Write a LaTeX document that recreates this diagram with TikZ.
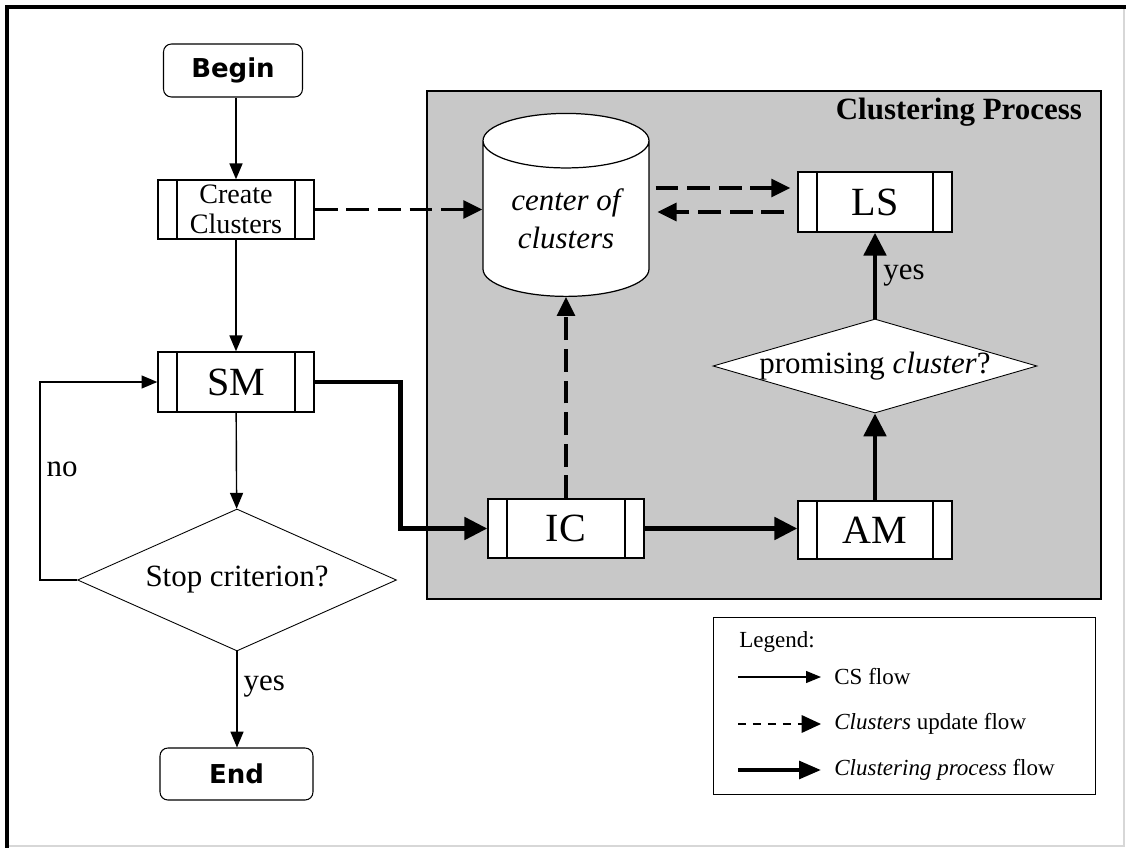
\documentclass[tikz,border=0pt]{standalone}
\usepackage{fontspec}
\setmainfont{Liberation Serif}
\newfontfamily\termfont{DejaVu Sans}
\usepackage{tikz}
\usetikzlibrary{positioning, arrows.meta, calc, shapes.geometric}
\definecolor{panelgray}{RGB}{200, 200, 200}
\definecolor{framegray}{RGB}{215, 215, 215}
\tikzset{
  term/.style={draw, rounded corners=4.5pt, fill=white, line width=0.6pt,
               font=\termfont\bfseries\fontsize{14.8}{17}\selectfont, inner sep=0pt},
  proc/.style={draw, fill=white, line width=0.8pt, inner sep=0pt,
               minimum width=3.08cm, minimum height=1.2cm,
               font=\fontsize{22.8}{27}\selectfont,
               path picture={
                 \draw[line width=0.6pt] ([xshift=0.38cm]path picture bounding box.north west)
                   -- ([xshift=0.38cm]path picture bounding box.south west);
                 \draw[line width=0.6pt] ([xshift=-0.38cm]path picture bounding box.north east)
                   -- ([xshift=-0.38cm]path picture bounding box.south east);}},
  decide/.style={diamond, draw, fill=white, line width=0.5pt, inner sep=0pt,
                 font=\fontsize{17.6}{21}\selectfont},
  store/.style={cylinder, shape border rotate=90, aspect=0.5, draw, fill=white,
                line width=0.7pt, align=center, inner sep=0pt,
                font=\itshape\fontsize{17.6}{21.6}\selectfont},
  arr/.style={-{Triangle[length=9pt, width=7.4pt]}, line width=0.8pt},
  upd/.style={-{Triangle[length=10.8pt, width=10.2pt]}, line width=1.8pt,
              dash pattern=on 13pt off 5pt},
  cpf/.style={-{Triangle[length=13pt, width=12.5pt]}, line width=2.8pt},
  lbl/.style={font=\fontsize{17.6}{21}\selectfont},
  leg/.style={font=\fontsize{13.1}{16}\selectfont, anchor=west,
              inner xsep=0.26cm, inner ysep=0pt},
}
\begin{document}
\begin{tikzpicture}[x=0.02cm, y=-0.02cm]
  \useasboundingbox (0,0) rectangle (1130,848);
  % Frame
  \draw[framegray, line width=0.8pt] (1124,7) -- (1124,846) -- (7,846);
  \draw[line width=2.8pt] (7,848) -- (7,7) -- (1126,7);
  % Clustering process panel
  \node[draw, fill=panelgray, line width=1.1pt, inner sep=0pt, anchor=north west,
        minimum width=13.48cm, minimum height=10.16cm] (panel) at (426,90) {};
  \node[font=\bfseries\fontsize{17.6}{20}\selectfont, anchor=base east] (ttl)
    at (1088,120) {Clustering Process};
  % Main loop
  \node[term, minimum width=2.78cm, minimum height=1.06cm] (begin) at (233,70.5) {Begin};
  \node[proc, minimum width=3.12cm, minimum height=1.18cm, align=center,
        font=\fontsize{16}{17}\selectfont] (create) at (236,209.5) {Create\\Clusters};
  \node[proc, minimum width=3.12cm] (sm) at (236,382) {SM};
  \node[decide, aspect=2.25, minimum width=6.38cm, minimum height=2.84cm] (stop)
    at (237,580) {Stop criterion?};
  \node[term, minimum width=3.06cm, minimum height=1.04cm] (end) at (236.5,774) {End};
  % Inside the panel
  \node[store, minimum width=3.32cm, minimum height=3.66cm, anchor=south] (cyl)
    at (566,297) {center of\\clusters};
  \node[proc] (ls) at (875,202) {LS};
  \node[decide, minimum width=6.48cm, minimum height=1.88cm] (prom) at (875,366)
    {\makebox[0pt]{promising \textit{cluster}?}};
  \node[proc, minimum width=3.12cm, minimum height=1.18cm] (ic) at (566,528.5) {IC};
  \node[proc, minimum height=1.16cm] (am) at (875,530) {AM};
  % CS flow
  \draw[arr] (create.north |- begin.south) -- (create.north);
  \draw[arr] (create) -- (sm);
  \draw[arr] (sm) -- (stop);
  \draw[arr] (stop.south) -- node[lbl, right, pos=0.37]{yes} (stop.south |- end.north);
  \draw[arr] (stop.west) -- ++(-37,0) |- node[lbl, right, pos=0.28]{no} (sm.west);
  % Clusters update flow
  \draw[upd] (create.east) -- (create.east -| cyl.west);
  \draw[upd, shorten <=3.4pt, shorten >=4pt]
    ([yshift=0.28cm]ls.west -| cyl.east) -- ([yshift=0.28cm]ls.west);
  \draw[upd, shorten <=7.4pt, shorten >=4.5pt]
    ([yshift=-0.2cm]ls.west) -- ([yshift=-0.2cm]ls.west -| cyl.east);
  \draw[upd] (ic.north) -- (cyl);
  % Clustering process flow
  \draw[cpf] (sm.east) -- ++(86,0) |- (ic.west);
  \draw[cpf] (ic.east) -- (ic.east -| am.west);
  \draw[cpf] (am) -- (prom);
  \draw[cpf] (prom) -- node[lbl, right]{yes} (ls);
  % Legend
  \node[draw, line width=0.8pt, inner sep=0pt, anchor=north west,
        minimum width=7.64cm, minimum height=3.54cm] (lgd) at (713,617) {};
  \node[leg, anchor=base west, inner xsep=0pt] (lgdttl) at (739,647) {Legend:};
  \node[leg] (l1) at (821,677) {CS flow};
  \node[leg] (l2) at (821,724) {\textit{Clusters} update flow};
  \node[leg] (l3) at (821,770) {\textit{Clustering process} flow};
  \draw[-{Triangle[length=8.5pt, width=6.8pt]}, line width=0.7pt]
    ([xshift=-1.66cm]l1.west) -- (l1.west);
  \draw[-{Triangle[length=11pt, width=10pt]}, line width=0.8pt, dash pattern=on 4.5pt off 4pt]
    ([xshift=-1.66cm]l2.west) -- (l2.west);
  \draw[-{Triangle[length=12.5pt, width=10pt]}, line width=2.3pt]
    ([xshift=-1.66cm]l3.west) -- (l3.west);
\end{tikzpicture}
\end{document}
